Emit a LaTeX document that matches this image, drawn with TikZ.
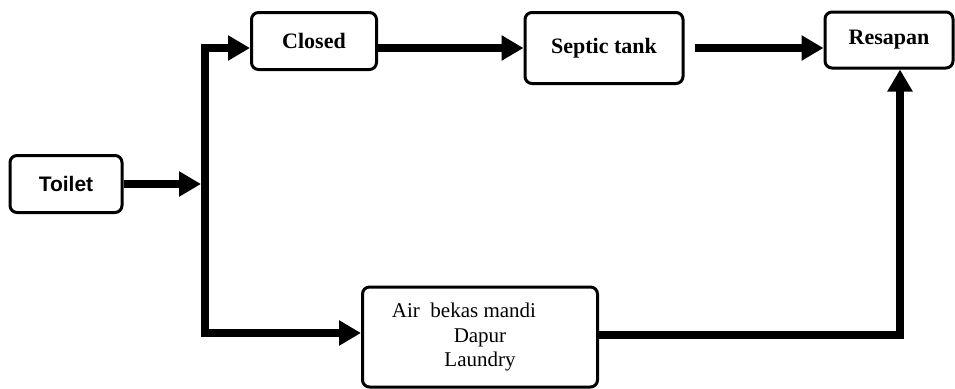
\documentclass[tikz,border=0pt]{standalone}
\usepackage{fontspec}
\setmainfont{Liberation Serif}
\newfontfamily\arialfont{Liberation Sans}
\usetikzlibrary{arrows.meta, positioning}

\tikzset{
    box/.style={draw, line width=1.5pt, rounded corners=3.5pt, inner sep=0pt,
        font=\fontsize{11}{13}\selectfont\bfseries},
    flow/.style={line width=4pt, -{Triangle[length=11pt,width=12pt]}},
}

\begin{document}
\begin{tikzpicture}[x=0.5pt, y=-0.5pt]
    \useasboundingbox (0,0) rectangle (955,388);

    % boxes
    \node[box, minimum width=56pt, minimum height=28.5pt,
        font=\arialfont\fontsize{10.5}{12}\selectfont\bfseries] (toilet) at (66,184) {Toilet};
    \node[box, minimum width=62.5pt, minimum height=28.5pt] (closed) at (314,41) {Closed};
    \node[box, minimum width=79pt, minimum height=35.5pt] (septic) at (604,48) {Septic tank};
    \node[box, minimum width=64pt, minimum height=28pt] (resapan) at (889,40) {Resapan};
    \node[box, minimum width=117.5pt, minimum height=50pt,
        label={[align=center, font=\fontsize{10.5}{12.25}\selectfont]center:%
            Air~ bekas mandi\hspace*{16pt}\\Dapur\\Laundry}] (limbah) at (480,337) {};

    \coordinate (split) at (205,184);

    % flows
    \draw[flow] (toilet) -- ([xshift=-2pt]split);
    \draw[flow] (split) |- (closed.west |- septic.west);
    \draw[flow] (split) |- ([yshift=2pt]limbah.west);
    \draw[flow] (closed.east |- septic.west) -- (septic.west);
    \draw[flow, shorten <=5pt] (septic.east) -- (resapan.west |- septic.east);
    \draw[flow] ([yshift=1pt]limbah.east) -| ([xshift=5.5pt]resapan.south);
\end{tikzpicture}
\end{document}
